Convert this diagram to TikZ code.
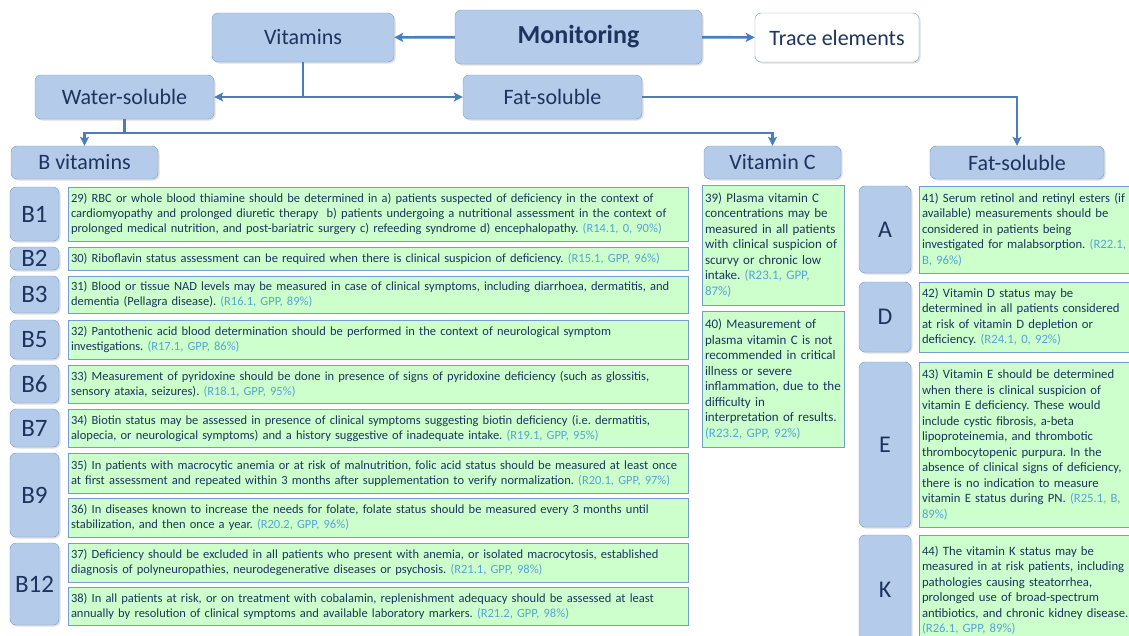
\documentclass[tikz,border=0pt]{standalone}
\usepackage{fontspec}
\setmainfont{Carlito}
\usepackage{xcolor}
\usetikzlibrary{shadows,arrows.meta}
\definecolor{boxblue}{RGB}{180,204,233}
\definecolor{edgeblue}{RGB}{118,156,208}
\definecolor{linkblue}{RGB}{74,126,187}
\definecolor{navy}{RGB}{28,52,94}
\definecolor{mint}{RGB}{204,255,204}
\definecolor{refblue}{RGB}{86,164,212}
\newcommand{\rf}[1]{\textcolor{refblue}{(#1)}}
\frenchspacing

\begin{document}
\begin{tikzpicture}[
            x = 1pt, y = -1pt, % one unit per pixel of the page
            > = {Stealth[length=9pt, width=9pt, inset=2pt]}, % arrow head style
            link/.style = {draw=linkblue, line width=2.6pt},
            head/.style = {shape=rectangle, rounded corners=6pt, draw=edgeblue, fill=boxblue, text=navy,
                           inner sep=0pt, font=\fontsize{22}{24}\selectfont,
                           drop shadow={opacity=0.25, shadow xshift=1.5pt, shadow yshift=-1.5pt}},
            tag/.style = {head, minimum width=49pt, font=\fontsize{25}{27}\selectfont},
            note/.style = {shape=rectangle, draw=edgeblue, fill=mint, text=navy, align=left,
                           inner sep=3pt, font=\fontsize{12.5}{15}\selectfont,
                           drop shadow={opacity=0.2, shadow xshift=1pt, shadow yshift=-1pt}},
            wide/.style = {note, minimum width=620pt, text width=614pt},
            narrow/.style = {note, font=\fontsize{13}{15.5}\selectfont}
        ]
\useasboundingbox (0,0) rectangle (1129,635);

% top of the tree
\node[head, minimum width=247pt, minimum height=54pt, font=\fontsize{26}{28}\selectfont\bfseries] (Mon) at (578.5,37) {Monitoring};
\node[head, minimum width=182pt, minimum height=49pt] (Vit) at (303,37.5) {Vitamins};
\node[head, minimum width=164pt, minimum height=49pt, fill=white] (Trace) at (837,37.5) {Trace elements};
\node[head, minimum width=179pt, minimum height=44pt] (Water) at (124.5,97) {Water-soluble};
\node[head, minimum width=179pt, minimum height=44pt] (Fat) at (552.5,97) {Fat-soluble};
\node[head, minimum width=147pt, minimum height=33pt] (Bvit) at (84.5,162.5) {B vitamins};
\node[head, minimum width=137pt, minimum height=33pt] (VitC) at (772.5,162.5) {Vitamin C};
\node[head, minimum width=174pt, minimum height=33pt] (FatS) at (1017,162.5) {Fat-soluble};

\coordinate (VitJ) at (Vit.south |- Water.east);
\coordinate (WaterJ) at (124.5,133);

 \draw [link, ->] (Mon) -- (Vit);
 \draw [link, ->] (Mon) -- (Trace);
 \draw [link] (Vit.south) -- (VitJ);
 \draw [link, <->] (Water) -- (Fat);
 \draw [link] (Water.south) -- (WaterJ);
 \draw [link, ->] (WaterJ) -| (Bvit.north);
 \draw [link, ->] (WaterJ) -| (VitC.north);
 \draw [link, ->] (Fat.east) -| (FatS.north);

% B vitamins
\node[tag, minimum height=54pt] (B1) at (34.5,214) {B1};
\node[tag, minimum height=23pt] (B2) at (34.5,258.5) {B2};
\node[tag, minimum height=37pt] (B3) at (34.5,294.5) {B3};
\node[tag, minimum height=39pt] (B5) at (34.5,339.5) {B5};
\node[tag, minimum height=38pt] (B6) at (34.5,384) {B6};
\node[tag, minimum height=38pt] (B7) at (34.5,428) {B7};
\node[tag, minimum height=84pt] (B9) at (34.5,495) {B9};
\node[tag, minimum height=82pt] (B12) at (34.5,584) {B12};

\node[wide, minimum height=54pt] (R29) at (378,214) {29) RBC or whole blood thiamine should be determined in a) patients suspected of deficiency in the context of\\
cardiomyopathy and prolonged diuretic therapy\ \ b) patients undergoing a nutritional assessment in the context of\\
prolonged medical nutrition, and post-bariatric surgery c) refeeding syndrome d) encephalopathy. \rf{R14.1, 0, 90\%}};
\node[wide, minimum height=23pt] (R30) at (378,258.5) {30) Riboflavin status assessment can be required when there is clinical suspicion of deficiency. \rf{R15.1, GPP, 96\%}};
\node[wide, minimum height=37pt] (R31) at (378,294.5) {31) Blood or tissue NAD levels may be measured in case of clinical symptoms, including diarrhoea, dermatitis, and\\
dementia (Pellagra disease). \rf{R16.1, GPP, 89\%}};
\node[wide, minimum height=39pt] (R32) at (378,339.5) {32) Pantothenic acid blood determination should be performed in the context of neurological symptom\\
investigations. \rf{R17.1, GPP, 86\%}};
\node[wide, minimum height=38pt] (R33) at (378,384) {33) Measurement of pyridoxine should be done in presence of signs of pyridoxine deficiency (such as glossitis,\\
sensory ataxia, seizures). \rf{R18.1, GPP, 95\%}};
\node[wide, minimum height=38pt] (R34) at (378,428) {34) Biotin status may be assessed in presence of clinical symptoms suggesting biotin deficiency (i.e. dermatitis,\\
alopecia, or neurological symptoms) and a history suggestive of inadequate intake. \rf{R19.1, GPP, 95\%}};
\node[wide, minimum height=40pt] (R35) at (378,473) {35) In patients with macrocytic anemia or at risk of malnutrition, folic acid status should be measured at least once\\
at first assessment and repeated within 3 months after supplementation to verify normalization. \rf{R20.1, GPP, 97\%}};
\node[wide, minimum height=39pt] (R36) at (378,517.5) {36) In diseases known to increase the needs for folate, folate status should be measured every 3 months until\\
stabilization, and then once a year. \rf{R20.2, GPP, 96\%}};
\node[wide, minimum height=39pt] (R37) at (378,562.5) {37) Deficiency should be excluded in all patients who present with anemia, or isolated macrocytosis, established\\
diagnosis of polyneuropathies, neurodegenerative diseases or psychosis. \rf{R21.1, GPP, 98\%}};
\node[wide, minimum height=38pt] (R38) at (378,606) {38) In all patients at risk, or on treatment with cobalamin, replenishment adequacy should be assessed at least\\
annually by resolution of clinical symptoms and available laboratory markers. \rf{R21.2, GPP, 98\%}};

% vitamin C
\node[narrow, minimum width=142pt, text width=136pt, minimum height=120pt] (R39) at (773,245) {39) Plasma vitamin C\\
concentrations may be\\ measured in all patients\\ with clinical suspicion of\\ scurvy or chronic low\\
intake. \textcolor{refblue}{(R23.1, GPP,}\\ \textcolor{refblue}{87\%)}};
\node[narrow, minimum width=142pt, text width=136pt, minimum height=136pt] (R40) at (773,379) {40) Measurement of\\
plasma vitamin C is not\\ recommended in critical\\ illness or severe\\ inflammation, due to the\\ difficulty in\\
interpretation of results.\\ \rf{R23.2, GPP, 92\%}};

% fat-soluble
\node[tag, minimum width=52pt, minimum height=87pt, font=\fontsize{24}{26}\selectfont] (A) at (885,229.5) {A};
\node[tag, minimum width=52pt, minimum height=70pt, font=\fontsize{24}{26}\selectfont] (D) at (885,317) {D};
\node[tag, minimum width=52pt, minimum height=165pt, font=\fontsize{24}{26}\selectfont] (E) at (885,444.5) {E};
\node[tag, minimum width=52pt, minimum height=110pt, font=\fontsize{24}{26}\selectfont] (K) at (885,590) {K};

\node[narrow, minimum width=226pt, text width=220pt, minimum height=87pt, font=\fontsize{12.7}{15.5}\selectfont] (R41) at (1032,229.5) {41) Serum retinol and retinyl esters (if\\
available) measurements should be\\ considered in patients being\\
investigated for malabsorption. \textcolor{refblue}{(R22.1,}\\ \textcolor{refblue}{B, 96\%)}};
\node[narrow, minimum width=226pt, text width=220pt, minimum height=70pt, font=\fontsize{12.7}{15.5}\selectfont] (R42) at (1032,317) {42) Vitamin D status may be\\
determined in all patients considered\\ at risk of vitamin D depletion or\\ deficiency. \rf{R24.1, 0, 92\%}};
\node[narrow, minimum width=226pt, text width=220pt, minimum height=165pt, font=\fontsize{12.7}{15.5}\selectfont] (R43) at (1032,444.5) {43) Vitamin E should be determined\\
when there is clinical suspicion of\\ vitamin E deficiency. These would\\ include cystic fibrosis, a-beta\\
lipoproteinemia, and thrombotic\\ thrombocytopenic purpura. In the\\ absence of clinical signs of deficiency,\\
there is no indication to measure\\ vitamin E status during PN. \textcolor{refblue}{(R25.1, B,}\\ \textcolor{refblue}{89\%)}};
\node[narrow, minimum width=226pt, text width=220pt, minimum height=110pt, font=\fontsize{12.7}{15.5}\selectfont] (R44) at (1032,590) {44) The vitamin K status may be\\
measured in at risk patients, including\\ pathologies causing steatorrhea,\\ prolonged use of broad-spectrum\\
antibiotics, and chronic kidney disease.\\ \rf{R26.1, GPP, 89\%}};
\end{tikzpicture}
\end{document}
